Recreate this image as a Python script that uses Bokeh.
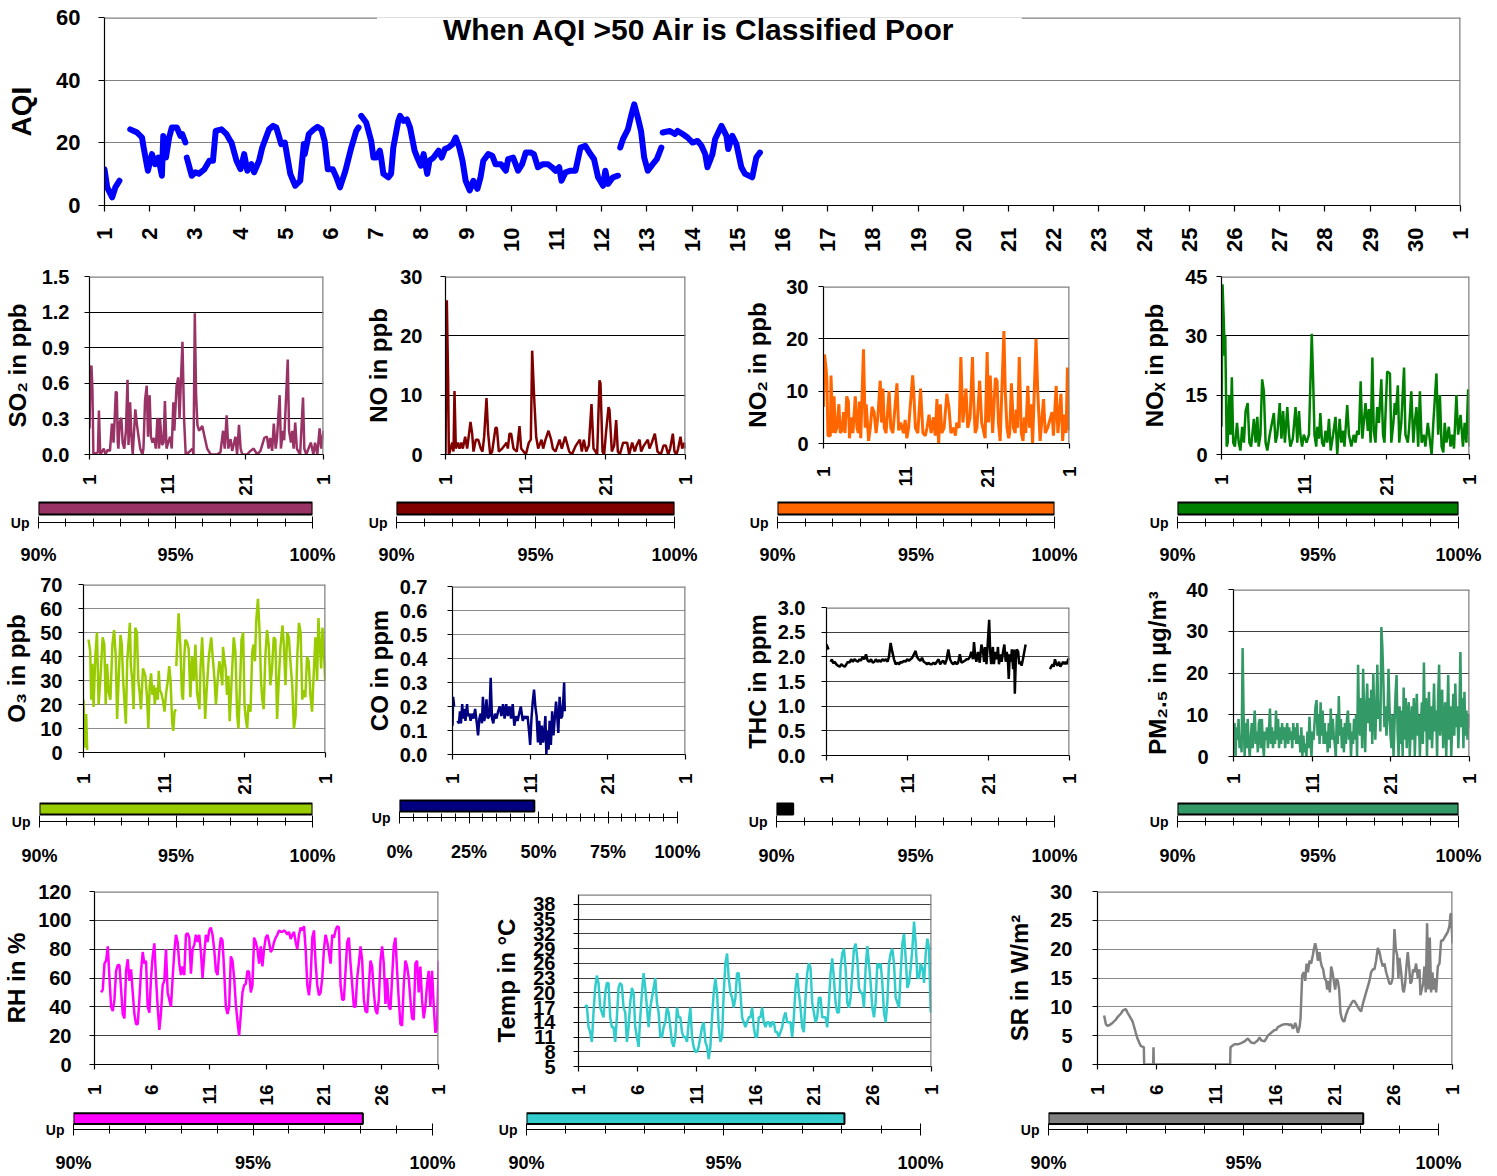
import math
import numpy as np
from bokeh.plotting import figure
from bokeh.models import Range1d, FixedTicker, Span, Label, NumeralTickFormatter
from bokeh.layouts import column, row
from bokeh.embed import file_html
from bokeh.resources import INLINE

FONT = "Liberation Sans"

# ---------------- data ----------------
AQI_DAY = [1.00, 1.06, 1.17, 1.24, 1.33, None,
           1.57, 1.72, 1.83, 1.86, 1.96, 2.05, 2.12, 2.19, 2.27, 2.30, 2.36, 2.43, 2.49, 2.60, 2.68, 2.72, 2.79, None,
           2.82, 2.93, 3.01, 3.09, 3.21, 3.32, 3.40, 3.46, 3.59, 3.70, 3.76, 3.81, 3.84, 3.92, 4.01, 4.09, 4.16, 4.25,
           4.31, 4.42, 4.49, 4.64, 4.73, 4.80, 4.91, 4.99, 5.11, 5.22, 5.33, 5.41, 5.43, 5.52, 5.63, 5.71, 5.80, 5.87,
           5.94, 6.05, 6.13, 6.21, 6.33, 6.46, 6.57, 6.62, None,
           6.68, 6.79, 6.90, 6.95, 7.01, 7.09, 7.12, 7.17, 7.28, 7.34, 7.39, 7.50, 7.54, 7.62, 7.69, 7.76, 7.86, 7.92,
           8.00, 8.06, 8.14, 8.19, 8.28, 8.39, 8.46, 8.53, 8.61, 8.70, 8.77, 8.85, 8.92, 8.99, 9.08, 9.16, 9.25, 9.32,
           9.38, 9.49, 9.58, 9.65, 9.77, 9.88, 9.93, 10.04, 10.15, 10.24, 10.32, 10.43, 10.50, 10.59, 10.70, 10.81,
           10.90, 10.98, 11.06, 11.11, 11.20, 11.31, 11.42, 11.53, 11.64, 11.75, 11.83, 11.92, 12.03, 12.08, 12.14,
           12.25, 12.36, None,
           12.41, 12.47, 12.58, 12.66, 12.72, 12.80, 12.87, 12.94, 13.02, 13.13, 13.22, 13.32, None,
           13.35, 13.51, 13.62, 13.68, 13.79, 13.90, 14.01, 14.12, 14.21, 14.29, 14.34, 14.45, 14.51, 14.65, 14.76,
           14.80, 14.89, 14.98, 15.09, 15.17, 15.33, 15.42, 15.50]
AQI = [11.6, 5.8, 2.6, 5.8, 7.9, None,
       24.3, 23.3, 21.7, 19.0, 11.1, 16.4, 13.2, 15.3, 9.5, 22.2, 15.3, 21.7, 24.9, 24.9, 22.2, 22.8, 20.1, None,
       15.3, 9.5, 10.6, 10.1, 11.6, 14.3, 14.3, 23.8, 24.3, 22.8, 21.2, 20.1, 18.5, 14.3, 11.6, 16.4, 11.1, 13.2,
       10.6, 14.3, 18.5, 24.3, 25.4, 24.9, 19.6, 20.1, 10.1, 6.3, 7.9, 19.6, 16.4, 22.8, 24.3, 25.1, 24.3, 20.6,
       11.6, 11.6, 9.0, 5.8, 11.1, 18.5, 23.8, 24.9, None,
       28.6, 26.5, 20.6, 15.3, 15.3, 17.5, 15.3, 10.1, 9.0, 10.1, 18.5, 27.0, 28.6, 27.0, 27.5, 24.9, 17.5, 15.3,
       12.7, 16.4, 10.1, 14.3, 15.3, 17.5, 15.3, 18.0, 18.5, 19.6, 21.7, 18.5, 14.3, 7.9, 4.8, 7.9, 5.3, 9.0,
       14.3, 16.4, 15.9, 13.2, 13.2, 11.1, 14.8, 15.3, 11.1, 13.2, 16.9, 16.9, 16.4, 12.2, 13.2, 13.2,
       12.2, 11.1, 12.2, 7.9, 10.6, 11.1, 11.1, 18.5, 19.0, 16.4, 14.8, 9.0, 6.3, 11.1, 6.9,
       9.0, 9.5, None,
       18.5, 21.2, 24.3, 29.1, 32.3, 28.0, 23.8, 15.3, 11.1, 13.2, 14.8, 18.5, None,
       23.3, 23.8, 22.8, 23.8, 22.8, 21.7, 20.1, 20.6, 19.0, 16.4, 12.2, 16.4, 21.2, 25.4, 22.2,
       18.0, 22.2, 19.6, 12.2, 10.1, 9.0, 15.3, 16.9]

# hours since the start of the month
SO2_H = [0, 3, 6, 9, 12, 26, 29, 33, 44, 49, 56, 63, 69, 74, 77, 81, 84, 87, 89, 93, 98, 102, 107, 112, 117, 120,
         125, 129, 133, 141, 146, 151, 156, 163, 166, 171, 176, 180, 185, 189, 194, 199, 204, 209, 214, 217, 223,
         228, 232, 237, 242, 248, 253, 258, 261, 268, 273, 277, 281, 286, 291, 296, 306, 317, 320, 324, 328, 332,
         337, 347, 354, 362, 373, 393, 403, 411, 416, 422, 427, 434, 439, 449, 454, 460, 465, 470, 485, 495, 505,
         516, 526, 538, 546, 551, 556, 562, 567, 573, 577, 585, 589, 595, 599, 610, 614, 620, 624, 628, 633, 638,
         648, 657, 661, 667, 674, 681, 689, 694, 701, 708, 713, 720]
SO2 = [0.22, 0.68, 0.75, 0.55, 0.0, 0.02, 0.37, 0.0, 0.05, 0.0, 0.04, 0.03, 0.26, 0.1, 0.27, 0.53, 0.52, 0.1, 0.05,
       0.27, 0.31, 0.1, 0.05, 0.2, 0.63, 0.08, 0.44, 0.15, 0.0, 0.38, 0.25, 0.15, 0.05, 0.0, 0.05, 0.46, 0.58, 0.15,
       0.5, 0.15, 0.1, 0.14, 0.05, 0.31, 0.05, 0.3, 0.08, 0.1, 0.45, 0.05, 0.1, 0.15, 0.05, 0.44, 0.2, 0.58, 0.65,
       0.3, 0.6, 0.95, 0.3, 0.0, 0.02, 0.05, 0.0, 1.19, 0.5, 0.25, 0.2, 0.24, 0.15, 0.05, 0.0, 0.0, 0.02, 0.2, 0.05,
       0.33, 0.05, 0.13, 0.03, 0.15, 0.0, 0.25, 0.05, 0.0, 0.0, 0.03, 0.05, 0.0, 0.03, 0.14, 0.15, 0.05, 0.14, 0.03,
       0.26, 0.05, 0.14, 0.5, 0.05, 0.2, 0.12, 0.8, 0.2, 0.1, 0.2, 0.05, 0.27, 0.05, 0.0, 0.48, 0.05, 0.0, 0.05,
       0.1, 0.0, 0.1, 0.0, 0.22, 0.05, 0.2]

NO_H = [0, 4, 8, 10, 13, 20, 24, 27, 31, 37, 42, 47, 52, 59, 65, 75, 80, 84, 91, 98, 106, 111, 116, 123, 128, 134,
        140, 150, 154, 160, 170, 177, 183, 187, 192, 197, 204, 214, 222, 227, 234, 241, 250, 256, 260, 266, 272,
        278, 288, 293, 300, 309, 317, 322, 330, 342, 349, 359, 364, 371, 379, 391, 403, 409, 415, 422, 430, 438,
        444, 450, 455, 462, 465, 471, 476, 482, 489, 492, 499, 506, 512, 517, 523, 533, 545, 551, 560, 568, 573,
        582, 587, 595, 607, 612, 619, 628, 636, 646, 654, 661, 668, 674, 682, 687, 693, 698, 705, 710, 717, 720]
NO = [0, 26, 12, 0, 0.5, 2, 0.5, 10.7, 1, 2, 1, 2, 1, 3, 1, 5.5, 3.5, 0.5, 2.5, 2.5, 1, 0.5, 3, 9.5, 3.5, 0, 0.5,
      4.5, 4.5, 0.5, 1, 1.5, 2, 1, 3.5, 3.5, 1, 0.5, 4.8, 1, 0.5, 0, 2, 2.5, 17.5, 9.5, 3, 1, 2.5, 1, 2.5, 4, 2.5,
      1, 0.5, 2.5, 1, 3, 2, 0.5, 0, 1.5, 2.5, 0.5, 2.5, 0.5, 1.5, 8.5, 1, 0.5, 0, 12.5, 12, 0.5, 0, 4, 8, 7.5,
      0.5, 1.5, 5.8, 0.5, 0, 2, 2, 0, 2, 0.5, 1.5, 2.5, 0.5, 1.5, 2.5, 1, 2, 3.5, 0.5, 0, 1.5, 1.5, 0, 1, 3.5,
      0.5, 0, 1, 3, 1, 2, 1]

NO2_H = [0, 3, 8, 10, 13, 20, 22, 27, 31, 34, 39, 45, 49, 54, 59, 63, 68, 73, 76, 81, 86, 93, 98, 102, 105, 109,
         117, 122, 125, 132, 137, 142, 148, 154, 159, 166, 170, 174, 178, 183, 192, 197, 203, 215, 220, 226, 234,
         239, 244, 249, 261, 264, 269, 276, 284, 291, 298, 303, 309, 315, 322, 327, 332, 337, 342, 346, 353, 361,
         367, 373, 381, 386, 390, 397, 402, 408, 417, 422, 429, 436, 439, 444, 449, 457, 463, 473, 479, 483, 488,
         495, 503, 508, 512, 517, 528, 532, 537, 542, 545, 550, 556, 561, 564, 568, 573, 579, 584, 588, 592, 598,
         603, 607, 612, 622, 627, 634, 644, 649, 656, 669, 673, 681, 686, 695, 700, 705, 710, 714, 718, 720]
NO2 = [7, 17, 14, 12, 1.5, 1.5, 13, 2, 9, 2, 3, 7.5, 2, 2.5, 6, 2, 9, 8, 1, 5, 2, 9, 3, 2, 8, 1, 18, 3, 7.5, 0.5,
       3, 7, 6, 2, 5, 12, 4, 10.5, 3, 2, 10, 3, 2, 11.5, 2.5, 4, 2, 4.5, 1, 3, 13, 10, 3, 2, 10.5, 2, 1.5, 3, 5.5, 2,
       5, 1.5, 8.5, 0, 7.5, 2, 3, 9.5, 7, 2, 3, 1.5, 4, 3, 16.5, 4, 10.5, 3, 5, 16.5, 9, 2, 3, 12, 4, 1, 17.5, 4,
       13, 2, 12.5, 12, 4, 0.5, 21.5, 10, 3, 1, 2, 11.5, 3, 2, 6.5, 3, 16.5, 2, 0.5, 5, 2, 11, 3, 7.5, 0, 20, 10,
       0.5, 8.5, 2, 3, 6, 1.5, 11, 2, 9.5, 0.5, 5.5, 2, 14.5, 3, 2.5]

NOX_H = [0, 3, 7, 9, 11, 15, 18, 22, 26, 30, 34, 39, 45, 50, 55, 60, 65, 70, 76, 81, 86, 94, 99, 104, 108, 113, 118,
         123, 128, 133, 140, 152, 157, 162, 169, 174, 179, 184, 191, 196, 200, 207, 215, 220, 225, 229, 234, 239,
         247, 254, 262, 266, 270, 275, 278, 283, 287, 292, 297, 302, 307, 312, 317, 324, 331, 336, 343, 348, 353,
         357, 365, 370, 377, 384, 389, 394, 399, 404, 409, 418, 425, 428, 433, 438, 442, 447, 452, 457, 464, 469,
         473, 481, 489, 493, 499, 503, 506, 512, 516, 522, 530, 534, 541, 545, 551, 557, 561, 566, 571, 576, 581,
         587, 592, 599, 610, 615, 624, 629, 634, 639, 644, 648, 653, 660, 665, 670, 675, 682, 687, 694, 701, 706,
         711, 716, 720]
NOX = [7, 43, 33, 25, 30, 2, 3, 15, 5, 19.5, 3, 2, 8, 3, 1, 7, 3, 11, 13, 3, 2, 9, 3, 9.5, 2, 5, 19, 16, 3, 1,
       5, 10.5, 3, 5, 13, 4, 11, 3, 12, 5, 2, 4, 12, 3, 11, 5, 2, 5, 3, 5, 30.5, 19, 5, 2, 7, 4, 10.5, 3, 2, 6,
       3, 9, 1, 5, 9.5, 0, 9, 3, 6, 2, 12.5, 5, 2, 5, 3, 6, 5, 18.5, 4, 13, 6, 11.5, 3, 24.5, 6, 3, 12, 8, 19, 5,
       3, 21, 20.5, 3, 8, 13, 10, 17.5, 3, 8, 22, 5, 3, 7, 16, 3, 8, 12, 2, 16, 3, 5, 2, 8, 0, 8, 20.5, 5, 15, 2,
       0.5, 8, 3, 7, 2, 5, 1.5, 15, 5, 10, 2, 8, 3, 16.5, 2]

O3_H = [0, 4, 8, 11, None,
        15, 20, 23, 26, 30, 35, 40, 45, 50, 57, 62, 66, 70, 75, 80, 86, 91, 96, 100, 105, 110, 114, 118, 122, 126,
        130, 135, 138, 141, 145, 149, 154, 159, 163, 167, 171, 177, 184, 189, 193, 197, 201, 205, 209, 212, 217,
        221, 224, 227, 231, 236, 241, 246, 251, 255, 259, 264, 267, 271, 275, None,
        276, 283, 288, 293, 296, 300, 303, 308, 313, 318, 323, 328, 333, 338, 345, 348, 353, 358, 362, 366, 373,
        380, 386, 390, 394, 398, 404, 408, 413, 415, 419, 423, 427, 431, 435, 439, 447, 452, 457, 461, 465, 470,
        475, 479, 483, 487, 491, 497, 502, 506, 510, 514, 519, 524, 528, 532, 536, 541, 546, 551, 556, 561, 566,
        571, 576, 581, 586, 592, 596, 601, 606, 611, 616, 621, 626, 631, 636, 641, 646, 651, 655, 660, 665, 670,
        675, 680, 685, 690, 695, 699, 703, 707, 711, 715, 719, 720]
O3 = [22, 2, 16, 1, None,
      47, 42, 22, 37, 19, 40, 50, 20, 30, 48, 45, 20, 37, 25, 22, 45, 51, 40, 14, 32, 49, 45, 30, 21, 12,
      38, 48, 54, 36, 30, 18, 52, 50, 30, 25, 18, 35, 32, 23, 10, 28, 33, 24, 28, 20, 27,
      22, 34, 26, 25, 22, 17, 25, 30, 36, 30, 12, 9, 17, 18, None,
      36, 58, 45, 24, 22, 40, 47, 46, 43, 23, 40, 30, 45, 25, 18, 35, 48, 30, 14, 25, 40,
      48, 37, 30, 20, 28, 38, 35, 28, 44, 39, 35, 24, 32, 13, 25, 48, 42, 16, 10, 25, 47,
      50, 20, 14, 10, 20, 17, 42, 45, 38, 55, 64, 50, 30, 22, 18, 40, 51, 45, 28, 35, 48,
      47, 14, 30, 44, 53, 45, 28, 50, 48, 37, 28, 10, 15, 40, 54, 50, 22, 26, 23, 40, 38,
      24, 17, 33, 48, 30, 56, 45, 35, 52, 43, 30, 38]

CO_H = [0, 2, 5, None,
        15, 20, 23, 26, 30, 33, 37, 40, 45, 48, 52, 56, 60, 65, 70, 76, 79, 83, 87, 91, 94, 98, 101, 105, 109, 114,
        118, 122, 126, 131, 136, 141, 146, 151, 156, 161, 166, 171, 176, 181, 186, 191, 196, 201, 206, 211, 217,
        222, 227, 232, 237, 240, 244, 248, 252, 256, 260, 264, 268, 272, 276, 280, 284, 287, 290, 293, 297, 300,
        304, 308, 312, 316, 320, 323, 327, 331, 335, 339, 342, 345, 347]
CO = [0.12, 0.24, 0.2, None,
      0.14, 0.13, 0.18, 0.13, 0.21, 0.15, 0.19, 0.14, 0.21, 0.16, 0.17, 0.14, 0.17, 0.15, 0.19, 0.12, 0.08, 0.15,
      0.17, 0.13, 0.24, 0.14, 0.16, 0.23, 0.15, 0.16, 0.32, 0.15, 0.13, 0.17, 0.15, 0.18, 0.2, 0.16, 0.21, 0.15,
      0.21, 0.16, 0.2, 0.15, 0.21, 0.12, 0.16, 0.14, 0.17, 0.2, 0.14, 0.16, 0.15, 0.16, 0.09, 0.04, 0.15, 0.22,
      0.27, 0.2, 0.16, 0.05, 0.14, 0.04, 0.12, 0.05, 0.1, 0.16, 0.0, 0.1, 0.02, 0.14, 0.04, 0.18, 0.08, 0.15,
      0.22, 0.17, 0.09, 0.24, 0.15, 0.16, 0.22, 0.3, 0.18]

THC_H = [0, 3, 6, None,
         12, 16, 20, 24, 29, 34, 39, 44, 49, 54, 59, 63, 68, 73, 78, 83, 88, 93, 98, 102, 107, 112, 117, 122, 127,
         132, 137, 142, 146, 151, 156, 161, 166, 171, 176, 181, 185, 190, 195, 200, 205, 210, 215, 220, 224, 229,
         234, 239, 244, 249, 254, 259, 264, 268, 273, 278, 283, 288, 293, 298, 303, 307, 312, 317, 322, 327, 332,
         337, 342, 346, 351, 356, 361, 366, 371, 376, 381, 386, 390, 395, 400, 405, 410, 415, 420, 425, 429, 434,
         437, 441, 444, 449, 454, 459, 464, 467, 470, 474, 478, 482, 485, 488, 493, 496, 500, 505, 508, 511, 515,
         519, 523, 527, 531, 534, 537, 540, 543, 547, 549, 553, 556, 558, 561, 564, 568, 571, 574, 578, 582, 586,
         590, None,
         662, 666, 670, 673, 677, 681, 685, 689, 693, 697, 701, 705, 709, 712, 716, 720]
THC = [2.25, 2.2, 2.15, None,
       1.9, 1.95, 1.87, 1.9, 1.85, 1.82, 1.8, 1.85, 1.82, 1.8, 1.85, 1.9, 1.88, 1.95, 1.9, 1.95, 1.92, 1.9, 1.95,
       1.92, 2.0, 1.95, 2.05, 1.92, 1.9, 1.95, 1.88, 1.9, 1.95, 1.9, 1.93, 1.9, 1.95, 1.92, 1.95, 1.9, 2.0, 2.28,
       2.1, 1.95, 1.85, 1.88, 1.85, 1.9, 1.88, 1.92, 1.9, 1.95, 1.92, 1.95, 1.98, 2.05, 2.12, 2.0, 1.95, 1.92,
       1.98, 1.9, 1.88, 1.85, 1.88, 1.85, 1.85, 1.88, 1.85, 1.9, 1.95, 1.85, 1.9, 1.92, 1.85, 1.95, 2.15, 1.95,
       1.88, 1.85, 1.9, 1.85, 1.88, 2.05, 1.88, 1.9, 1.92, 1.95, 1.95, 2.0, 2.1, 1.95, 2.3, 2.0, 1.9, 2.1, 1.88,
       2.25, 2.1, 1.9, 2.2, 1.85, 2.3, 2.75, 2.1, 1.85, 2.2, 1.85, 2.1, 1.95, 2.2, 1.85, 2.05, 1.9, 2.1, 2.25,
       1.9, 2.1, 2.0, 1.55, 2.05, 1.9, 2.15, 1.75, 2.15, 1.25, 1.95, 2.15, 2.1, 1.85, 1.9, 1.82, 1.95, 2.1,
       2.25, None,
       1.75, 1.8, 1.85, 1.8, 1.95, 1.85, 1.82, 1.9, 1.8, 1.85, 1.9, 1.85, 1.9, 1.85, 1.95, 1.97]

# PM2.5 readings, evenly spaced through the month
PM25 = [5, 8, 0, 7, 4, 9, 2, 5, 1, 26, 10, 0, 8, 2, 9, 3, 0, 4, 8, 2, 7, 11, 3, 6, 1, 8, 9, 2, 9, 3, 0, 6, 4, 7, 2,
        6, 11.5, 3, 7, 2, 6, 3, 11, 4, 9, 2, 7, 3, 8, 4, 7, 2, 6, 8, 3, 7, 4, 6, 2, 8, 4, 7, 3, 8, 3, 5, 1, 7, 0, 5,
        1, 3, 0, 6, 2, 9.5, 4, 0, 6, 4, 8, 12, 13.5, 5, 10, 3, 13, 5, 11, 3, 8, 3, 6, 1, 8, 2, 11.5, 4, 9, 5, 3, 0,
        10, 3, 14.5, 5, 9, 2, 7, 1, 8, 3, 9, 11, 4, 8, 0, 6, 3, 9, 4, 10, 0, 22, 8, 5, 14, 2, 21, 10, 1, 12, 17.5,
        8, 14, 6, 16, 3, 20, 10, 4, 12, 22, 9, 13, 6, 31, 26, 18, 7, 12, 5, 9, 21, 12, 5, 2, 10, 0, 8, 15, 19.5, 6,
        0, 12, 3, 11, 0, 16.5, 4, 14, 2, 10, 13, 0, 7, 12, 4, 14, 0, 9, 15, 5, 10, 0, 8, 13, 3, 22.5, 6, 14, 0, 10,
        15.5, 4, 12, 2, 9, 17.5, 6, 11, 0, 14, 22, 5, 12, 16, 2, 8, 13, 0, 9, 19.5, 4, 12, 0, 8, 15, 5, 17.5, 7, 12,
        2, 10, 25, 7, 14, 2, 15.5, 5, 11, 4, 10, 7]

# RH and temperature: readings every few hours from the first reading on
RH_START_H, RH_STEP_H = 13.9, 3.48
RH = [50, 52, 70, 72, 82, 60, 40, 37, 45, 65, 69, 69, 52, 35, 32, 65, 73, 58, 66, 50,
      35, 28, 28, 45, 65, 78, 70, 72, 40, 36, 60, 75, 84, 60, 40, 24, 36, 55, 58, 80,
      50, 45, 40, 60, 78, 90, 85, 70, 62, 68, 62, 90, 91, 88, 63, 80, 83, 90, 85, 90,
      78, 60, 76, 90, 85, 93, 95, 90, 80, 65, 62, 78, 88, 86, 65, 40, 35, 40, 75, 72,
      60, 42, 30, 20, 35, 50, 55, 56, 65, 64, 50, 55, 88, 85, 80, 70, 82, 68, 80, 88,
      90, 85, 78, 80, 85, 88, 90, 93, 92, 92, 93, 92, 90, 92, 87, 90, 92, 85, 80, 90,
      95, 93, 96, 80, 55, 48, 60, 88, 93, 70, 55, 48, 50, 60, 80, 90, 85, 78, 70, 90,
      88, 93, 96, 95, 55, 45, 45, 65, 85, 88, 70, 55, 40, 40, 60, 70, 82, 72, 45, 37,
      36, 55, 72, 68, 50, 38, 35, 45, 72, 82, 70, 42, 60, 40, 38, 60, 82, 88, 65, 45,
      28, 27, 55, 72, 68, 60, 45, 32, 31, 70, 72, 50, 68, 45, 32, 40, 55, 65, 40, 65,
      42, 22, 25, 72]

TEMP_START_H, TEMP_STEP_H = 13.6, 3.405
TEMP = [17, 17.5, 13, 12, 10, 16, 21, 23.5, 22, 17, 16, 15, 20, 22, 22, 15, 13, 13, 10, 15,
        21, 22, 21.5, 17, 16, 10, 13, 18, 21, 20, 13, 11, 9, 15, 20, 24, 21, 17, 13, 17,
        19, 21, 23, 18, 16, 11, 11, 13, 14, 17, 16, 13, 10, 9, 11, 17, 15, 15, 12, 11,
        11, 10, 14, 17, 11, 9, 8, 8, 9, 11, 13, 14, 10, 9, 6.5, 9, 15, 20, 23, 20,
        13, 10, 11, 20, 26, 28, 23, 20, 19, 17, 19, 24, 24, 20, 15, 14, 13, 14, 15, 15,
        17, 13, 11, 11, 15, 15, 17, 14, 13, 14, 14, 13, 14, 14, 12, 12, 11, 12, 13, 15,
        16, 14, 14, 14, 11, 15, 21, 24, 20, 17, 13, 12, 19, 24, 26, 25, 18, 16, 14, 15,
        19, 19, 15, 15, 15, 13, 18, 24, 27, 23, 18, 16, 16, 25, 28, 29, 25, 18, 17, 19,
        24, 29, 30, 27, 21, 20, 20, 17, 25, 29.5, 26, 22, 17, 15, 18, 26, 25, 26, 22, 16,
        14, 18, 26, 28, 29, 26, 19, 18, 17, 24, 30, 32, 27, 21, 22, 25, 29, 34.5, 30, 23,
        23, 26, 25, 22, 28, 31, 29, 16]

SR_H = [13.5, 16.9, 20.3, 23.7, 27.0, 30.4, 33.8, 37.2, 40.6, 43.9, 47.3, 50.7, 54.1, 57.5, 60.8, 64.2, 67.6, 71.0,
        74.4, 77.7, 81.1, 84.5, 87.9, 94.0, 94.6, 112.9, 113.6, 114.2, 269.0, 269.7, 274.4, 277.8, 284.6, 291.4,
        298.1, 304.9, 311.7, 318.4, 325.2, 328.6, 332.0, 338.8, 342.2, 345.5, 352.3, 359.1, 362.5, 365.8, 372.6,
        379.4, 386.1, 389.5, 392.9, 396.3, 398.3, 401.0, 403.7, 406.4, 409.8, 411.8, 415.2, 418.6, 421.3, 424.0,
        426.7, 430.1, 433.4, 436.8, 438.8, 441.5, 444.2, 446.9, 450.3, 452.3, 455.0, 457.7, 460.4, 463.8, 465.8,
        468.5, 471.2, 473.9, 476.6, 479.3, 482.0, 484.7, 487.4, 490.1, 492.8, 495.5, 498.2, 500.9, 503.6, 507.7,
        511.0, 514.4, 517.8, 521.2, 524.6, 527.9, 531.3, 534.7, 538.1, 541.5, 544.8, 548.2, 551.6, 555.0, 558.4,
        561.7, 565.1, 568.5, 571.9, 575.3, 578.6, 582.0, 585.4, 588.8, 592.2, 595.5, 598.9, 602.3, 605.0, 607.7,
        610.4, 612.4, 615.8, 619.2, 621.2, 623.9, 626.6, 629.3, 632.0, 634.7, 637.4, 640.1, 642.8, 646.2, 649.6,
        653.0, 655.0, 657.7, 660.4, 663.1, 665.8, 668.5, 671.2, 673.9, 676.6, 679.3, 682.0, 684.8, 686.8, 690.2,
        693.6, 696.9, 700.3, 703.7, 707.1, 710.5, 713.8, 715.9, 717.2, 720.0]
SR = [8.5, 7, 6.7, 6.8, 7, 7.2, 7.5, 7.8, 8.2, 8.5, 8.8, 9.3, 9.5, 9.6, 9, 8.5, 8, 7.5, 6.5, 5.5,
      4.5, 3.8, 3.2, 3.0, 0, 0, 3.0, 0, 0, 3.0, 3.3, 3.5, 3.5, 3.7, 4.0, 4.5, 3.8, 3.7, 4.2, 4.7,
      4.2, 4.0, 4.5, 5.0, 5.5, 6.0, 6.0, 6.5, 6.8, 7.0, 7.0, 6.8, 7.0, 6.2, 6.5, 7.2, 6.5, 5.5, 6.5, 8.0,
      15.5, 16, 14.5, 17.5, 16, 18, 17.5, 19, 20, 21, 20, 18, 19.5, 18, 17, 16.5, 15, 14.5, 13, 14.5,
      12.5, 17, 16, 14.5, 13, 14.8, 14.5, 13, 9, 8, 7.5, 7.5, 8.5, 9.5, 10, 10.5, 11, 11, 10.5, 10,
      9.5, 9.2, 10.5, 11.5, 12.5, 13.5, 14.5, 16, 16.5, 16.5, 18, 20.2, 19.5, 18, 17, 17.5, 16, 15, 14, 14,
      15, 23.5, 20, 19, 15, 18.5, 16, 13, 12.5, 14, 17, 19.5, 17, 14, 14.5, 16.5, 16, 17.5, 15, 16.5,
      12, 13, 14, 17, 12.5, 24.5, 13, 22, 12.5, 16, 13, 15, 12.5, 17, 17.5, 21.5, 21.5, 22, 22.5, 23,
      24, 26, 26.2, 21]

# data capture ("Up") per instrument, percent
PANELS = ["SO2", "NO", "NO2", "NOx", "O3", "CO", "THC", "PM2.5", "RH", "Temp", "SR"]
UPTIME = [100, 100, 100, 100, 100, 48.5, 90.6, 100, 98.06, 98.07, 98.07]
UP = dict(zip(PANELS, UPTIME))


# ---------------- helpers ----------------
def arr(a):
    return np.array([np.nan if v is None else v for v in a], dtype=float)


def hours_to_day(h, v):
    n = min(len(h), len(v))
    return 1 + arr(h[:n]) / 24.0, arr(v[:n])


def even_days(start_h, step_h, v):
    return 1 + (start_h + step_h * np.arange(len(v))) / 24.0, arr(v)


def style_ticks(ax, size):
    ax.major_label_text_font = FONT
    ax.major_label_text_font_style = "bold"
    ax.major_label_text_font_size = size
    ax.major_label_text_color = "black"
    ax.axis_line_color = "black"
    ax.axis_line_width = 1.2
    ax.major_tick_line_color = "black"
    ax.major_tick_line_width = 1.2
    ax.minor_tick_line_color = None


def chart(W, H, bl, bt, br, bb, y_lo, y_hi, yticks, ylabel, xticks, grid,
          fmt=None, ystand=15, lab_stand=6, xstand=12, ylab="24px", ytk="20px", xtk="19px"):
    p = figure(width=W, height=H, min_border_left=bl, min_border_top=bt,
               min_border_right=br, min_border_bottom=bb,
               x_range=Range1d(1, 31), y_range=Range1d(y_lo, y_hi),
               output_backend="svg", toolbar_location=None)
    p.outline_line_color = None
    p.xgrid.visible = False
    p.ygrid.ticker = FixedTicker(ticks=yticks)
    p.ygrid.grid_line_color = grid
    p.ygrid.grid_line_width = 1
    ya = p.yaxis[0]
    ya.ticker = FixedTicker(ticks=yticks)
    if fmt:
        ya.formatter = NumeralTickFormatter(format=fmt)
    style_ticks(ya, ytk)
    ya.major_tick_in = 0
    ya.major_tick_out = 5
    ya.major_label_standoff = ystand
    ya.axis_label = ylabel
    ya.axis_label_text_font = FONT
    ya.axis_label_text_font_style = "bold"
    ya.axis_label_text_font_size = ylab
    ya.axis_label_text_color = "black"
    ya.axis_label_standoff = lab_stand
    xa = p.xaxis[0]
    xa.ticker = FixedTicker(ticks=xticks)
    xa.major_label_overrides = {31: "1"}
    xa.major_label_orientation = math.pi / 2
    style_ticks(xa, xtk)
    xa.major_tick_in = 0
    xa.major_tick_out = 5
    xa.major_label_standoff = xstand
    p.add_layout(Span(location=y_hi, dimension="width", line_color="#808080", line_width=2.5))
    p.add_layout(Span(location=31, dimension="height", line_color="#808080", line_width=2.5))
    return p


def upbar(W, H, bl, br, bt, fh, bar_lo, bar_hi, name, color, stand, pct_scale=False):
    if pct_scale:
        lo, hi = 0, 100
        majors, minors = [0, 25, 50, 75, 100], list(range(0, 101, 5))
    else:
        lo, hi = 90, 100
        majors, minors = [90, 95, 100], list(range(90, 101))
    p = figure(width=W, height=H, min_border_left=bl, min_border_right=br,
               min_border_top=bt, min_border_bottom=H - bt - fh,
               x_range=Range1d(lo, hi), y_range=Range1d(0, fh),
               output_backend="svg", toolbar_location=None)
    p.outline_line_color = None
    p.grid.visible = False
    p.hbar(y=[(bar_lo + bar_hi) / 2], height=[bar_hi - bar_lo], left=[lo], right=[UP[name]],
           fill_color=color, line_color="black", line_width=2)
    xa = p.xaxis[0]
    xa.ticker = FixedTicker(ticks=majors, minor_ticks=minors)
    xa.major_label_overrides = {m: "%d%%" % m for m in majors}
    xa.major_label_text_font = FONT
    xa.major_label_text_font_style = "bold"
    xa.major_label_text_font_size = "18px"
    xa.major_label_text_color = "black"
    xa.axis_line_color = "black"
    xa.major_tick_line_color = "black"
    xa.minor_tick_line_color = "black"
    xa.major_tick_in = 6
    xa.major_tick_out = 6
    xa.minor_tick_in = 4
    xa.minor_tick_out = 4
    xa.major_label_standoff = stand
    # "Up" caption, shown as the single label of a bare left axis at the axis level
    ya = p.yaxis[0]
    ya.ticker = FixedTicker(ticks=[0])
    ya.major_label_overrides = {0: "Up"}
    ya.axis_line_color = None
    ya.major_tick_line_color = None
    ya.minor_tick_line_color = None
    ya.major_tick_in = 0
    ya.major_tick_out = 0
    ya.major_label_standoff = 9
    ya.major_label_text_font = FONT
    ya.major_label_text_font_style = "bold"
    ya.major_label_text_font_size = "14px"
    ya.major_label_text_color = "black"
    return p


def panel(c, b):
    return column(row(c), row(b))


# ---------------- top AQI chart ----------------
top = figure(width=1496, height=263, min_border_left=104, min_border_right=36,
             min_border_top=17, min_border_bottom=58,
             x_range=Range1d(1, 31), y_range=Range1d(0, 60),
             output_backend="svg", toolbar_location=None)
top.outline_line_color = None
top.xgrid.visible = False
top.ygrid.ticker = FixedTicker(ticks=[0, 20, 40, 60])
top.ygrid.grid_line_color = "#808080"
ya = top.yaxis[0]
ya.ticker = FixedTicker(ticks=[0, 20, 40, 60])
style_ticks(ya, "22px")
ya.major_tick_in = 0
ya.major_tick_out = 6
ya.major_label_standoff = 18
ya.axis_label = "AQI"
ya.axis_label_text_font = FONT
ya.axis_label_text_font_style = "bold"
ya.axis_label_text_font_size = "28px"
ya.axis_label_text_color = "black"
ya.axis_label_standoff = 16
xa = top.xaxis[0]
xa.ticker = FixedTicker(ticks=list(range(1, 32)))
xa.major_label_overrides = {31: "1"}
xa.major_label_orientation = math.pi / 2
style_ticks(xa, "22px")
xa.major_tick_in = 0
xa.major_tick_out = 6
xa.major_label_standoff = 16
top.add_layout(Span(location=60, dimension="width", line_color="#808080", line_width=2.5))
top.add_layout(Span(location=31, dimension="height", line_color="#808080", line_width=2.5))
top.line(arr(AQI_DAY), arr(AQI), line_color="#0000FF", line_width=6, line_join="round", line_cap="round")
title_kw = dict(x=14.16, y=60, y_offset=-12, text="When AQI >50 Air is Classified Poor",
                text_align="center", text_baseline="middle", text_font=FONT,
                text_font_style="bold", text_font_size="30px", text_color="black",
                background_fill_color="white")
try:
    title_lbl = Label(padding=(66, 4), **title_kw)
except Exception:
    title_lbl = Label(**title_kw)
top.add_layout(title_lbl)

D4 = [1, 11, 21, 31]
D7 = [1, 6, 11, 16, 21, 26, 31]

# ---------------- row 2 ----------------
c_so2 = chart(362, 235, 88, 13, 39, 42, 0, 1.5, [0, 0.3, 0.6, 0.9, 1.2, 1.5], "SO₂ in ppb", D4, "#000000",
              fmt="0.0", ystand=15, lab_stand=8, xstand=15)
c_so2.line(*hours_to_day(SO2_H, SO2), line_color="#993366", line_width=2.5)
c_no = chart(378, 235, 79, 13, 55, 42, 0, 30, [0, 10, 20, 30], "NO in ppb", D4, "#000000",
             ystand=18, lab_stand=5, xstand=15)
c_no.line(*hours_to_day(NO_H, NO), line_color="#800000", line_width=2.5)
c_no2 = chart(380, 235, 83, 23, 51, 55, 0, 30, [0, 10, 20, 30], "NO₂ in ppb", D4, "#000000",
              ystand=10, lab_stand=12, xstand=18)
c_no2.line(*hours_to_day(NO2_H, NO2), line_color="#FF6600", line_width=3)
c_nox = chart(376, 235, 101, 13, 27, 42, 0, 45, [0, 15, 30, 45], "NOₓ in ppb", D4, "#000000",
              ystand=9, lab_stand=14, xstand=15)
c_nox.line(*hours_to_day(NOX_H, NOX), line_color="#008000", line_width=2.5)

b_so2 = upbar(362, 72, 38, 50, 2, 22, 8, 20, "SO2", "#993366", 16)
b_no = upbar(378, 72, 34, 66, 2, 22, 8, 20, "NO", "#800000", 16)
b_no2 = upbar(380, 72, 37, 66, 2, 22, 8, 20, "NO2", "#FF6600", 16)
b_nox = upbar(376, 72, 57, 38, 2, 22, 8, 20, "NOx", "#008000", 16)

# ---------------- row 3 ----------------
c_o3 = chart(362, 227, 83, 14, 37, 44, 0, 70, [0, 10, 20, 30, 40, 50, 60, 70], "O₃ in ppb", D4, "#8c8c8c",
             ystand=16, lab_stand=7, xstand=16)
c_o3.line(*hours_to_day(O3_H, O3), line_color="#99CC00", line_width=2.5)
c_co = chart(378, 227, 85, 16, 55, 41, 0, 0.7, [0, 0.1, 0.2, 0.3, 0.4, 0.5, 0.6, 0.7], "CO in ppm", D4,
             "#8c8c8c", fmt="0.0", ystand=20, lab_stand=4, xstand=14)
c_co.line(*hours_to_day(CO_H, CO), line_color="#000080", line_width=2.5)
c_thc = chart(380, 227, 83, 37, 51, 40, 0, 3.0, [0, 0.5, 1.0, 1.5, 2.0, 2.5, 3.0], "THC in ppm", D4,
              "#404040", fmt="0.0", ystand=16, lab_stand=4, xstand=13)
c_thc.line(*hours_to_day(THC_H, THC), line_color="#000000", line_width=2.5)
c_pm = chart(376, 227, 113, 19, 27, 39, 0, 40, [0, 10, 20, 30, 40], "PM₂.₅ in µg/m³", D4, "#404040",
             ystand=20, lab_stand=12, xstand=12)
pm_x = 1 + (np.arange(len(PM25)) * 720.0 / (len(PM25) - 1)) / 24.0
c_pm.line(pm_x, arr(PM25), line_color="#339966", line_width=2.5)

b_o3 = upbar(362, 78, 39, 50, 4, 20, 7, 18, "O3", "#99CC00", 18)
b_co = upbar(378, 78, 37, 63, 1, 19, 6, 17, "CO", "#000080", 18, pct_scale=True)
b_thc = upbar(380, 78, 36, 66, 4, 20, 7, 18, "THC", "#000000", 18)
b_pm = upbar(376, 78, 57, 38, 4, 20, 7, 18, "PM2.5", "#339966", 18)

# ---------------- row 4 ----------------
c_rh = chart(490, 233, 93, 16, 52, 42, 0, 120, [0, 20, 40, 60, 80, 100, 120], "RH in %", D7, "#404040",
             ystand=18, lab_stand=5, xstand=15)
c_rh.line(*even_days(RH_START_H, RH_STEP_H, RH), line_color="#FF00FF", line_width=2.5)
c_tp = chart(510, 233, 88, 19, 69, 40, 5, 40, list(range(5, 39, 3)), "Temp in °C", D7, "#404040",
             ystand=18, lab_stand=10, xstand=13)
c_tp.line(*even_days(TEMP_START_H, TEMP_STEP_H, TEMP), line_color="#33CCCC", line_width=2.5)
c_sr = chart(496, 233, 97, 16, 44, 42, 0, 30, [0, 5, 10, 15, 20, 25, 30], "SR in W/m²", D7, "#8c8c8c",
             ystand=20, lab_stand=14, xstand=15)
c_sr.line(*hours_to_day(SR_H, SR), line_color="#808080", line_width=2.5)

b_rh = upbar(490, 67, 73, 58, 3, 20, 6, 18, "RH", "#FF00FF", 17)
b_tp = upbar(510, 67, 36, 80, 3, 20, 6, 18, "Temp", "#33CCCC", 17)
b_sr = upbar(496, 67, 48, 58, 3, 20, 6, 18, "SR", "#808080", 17)

layout = column(
    row(top),
    row(panel(c_so2, b_so2), panel(c_no, b_no), panel(c_no2, b_no2), panel(c_nox, b_nox)),
    row(panel(c_o3, b_o3), panel(c_co, b_co), panel(c_thc, b_thc), panel(c_pm, b_pm)),
    row(panel(c_rh, b_rh), panel(c_tp, b_tp), panel(c_sr, b_sr)),
)

open("out.html", "w").write(file_html(layout, INLINE))
